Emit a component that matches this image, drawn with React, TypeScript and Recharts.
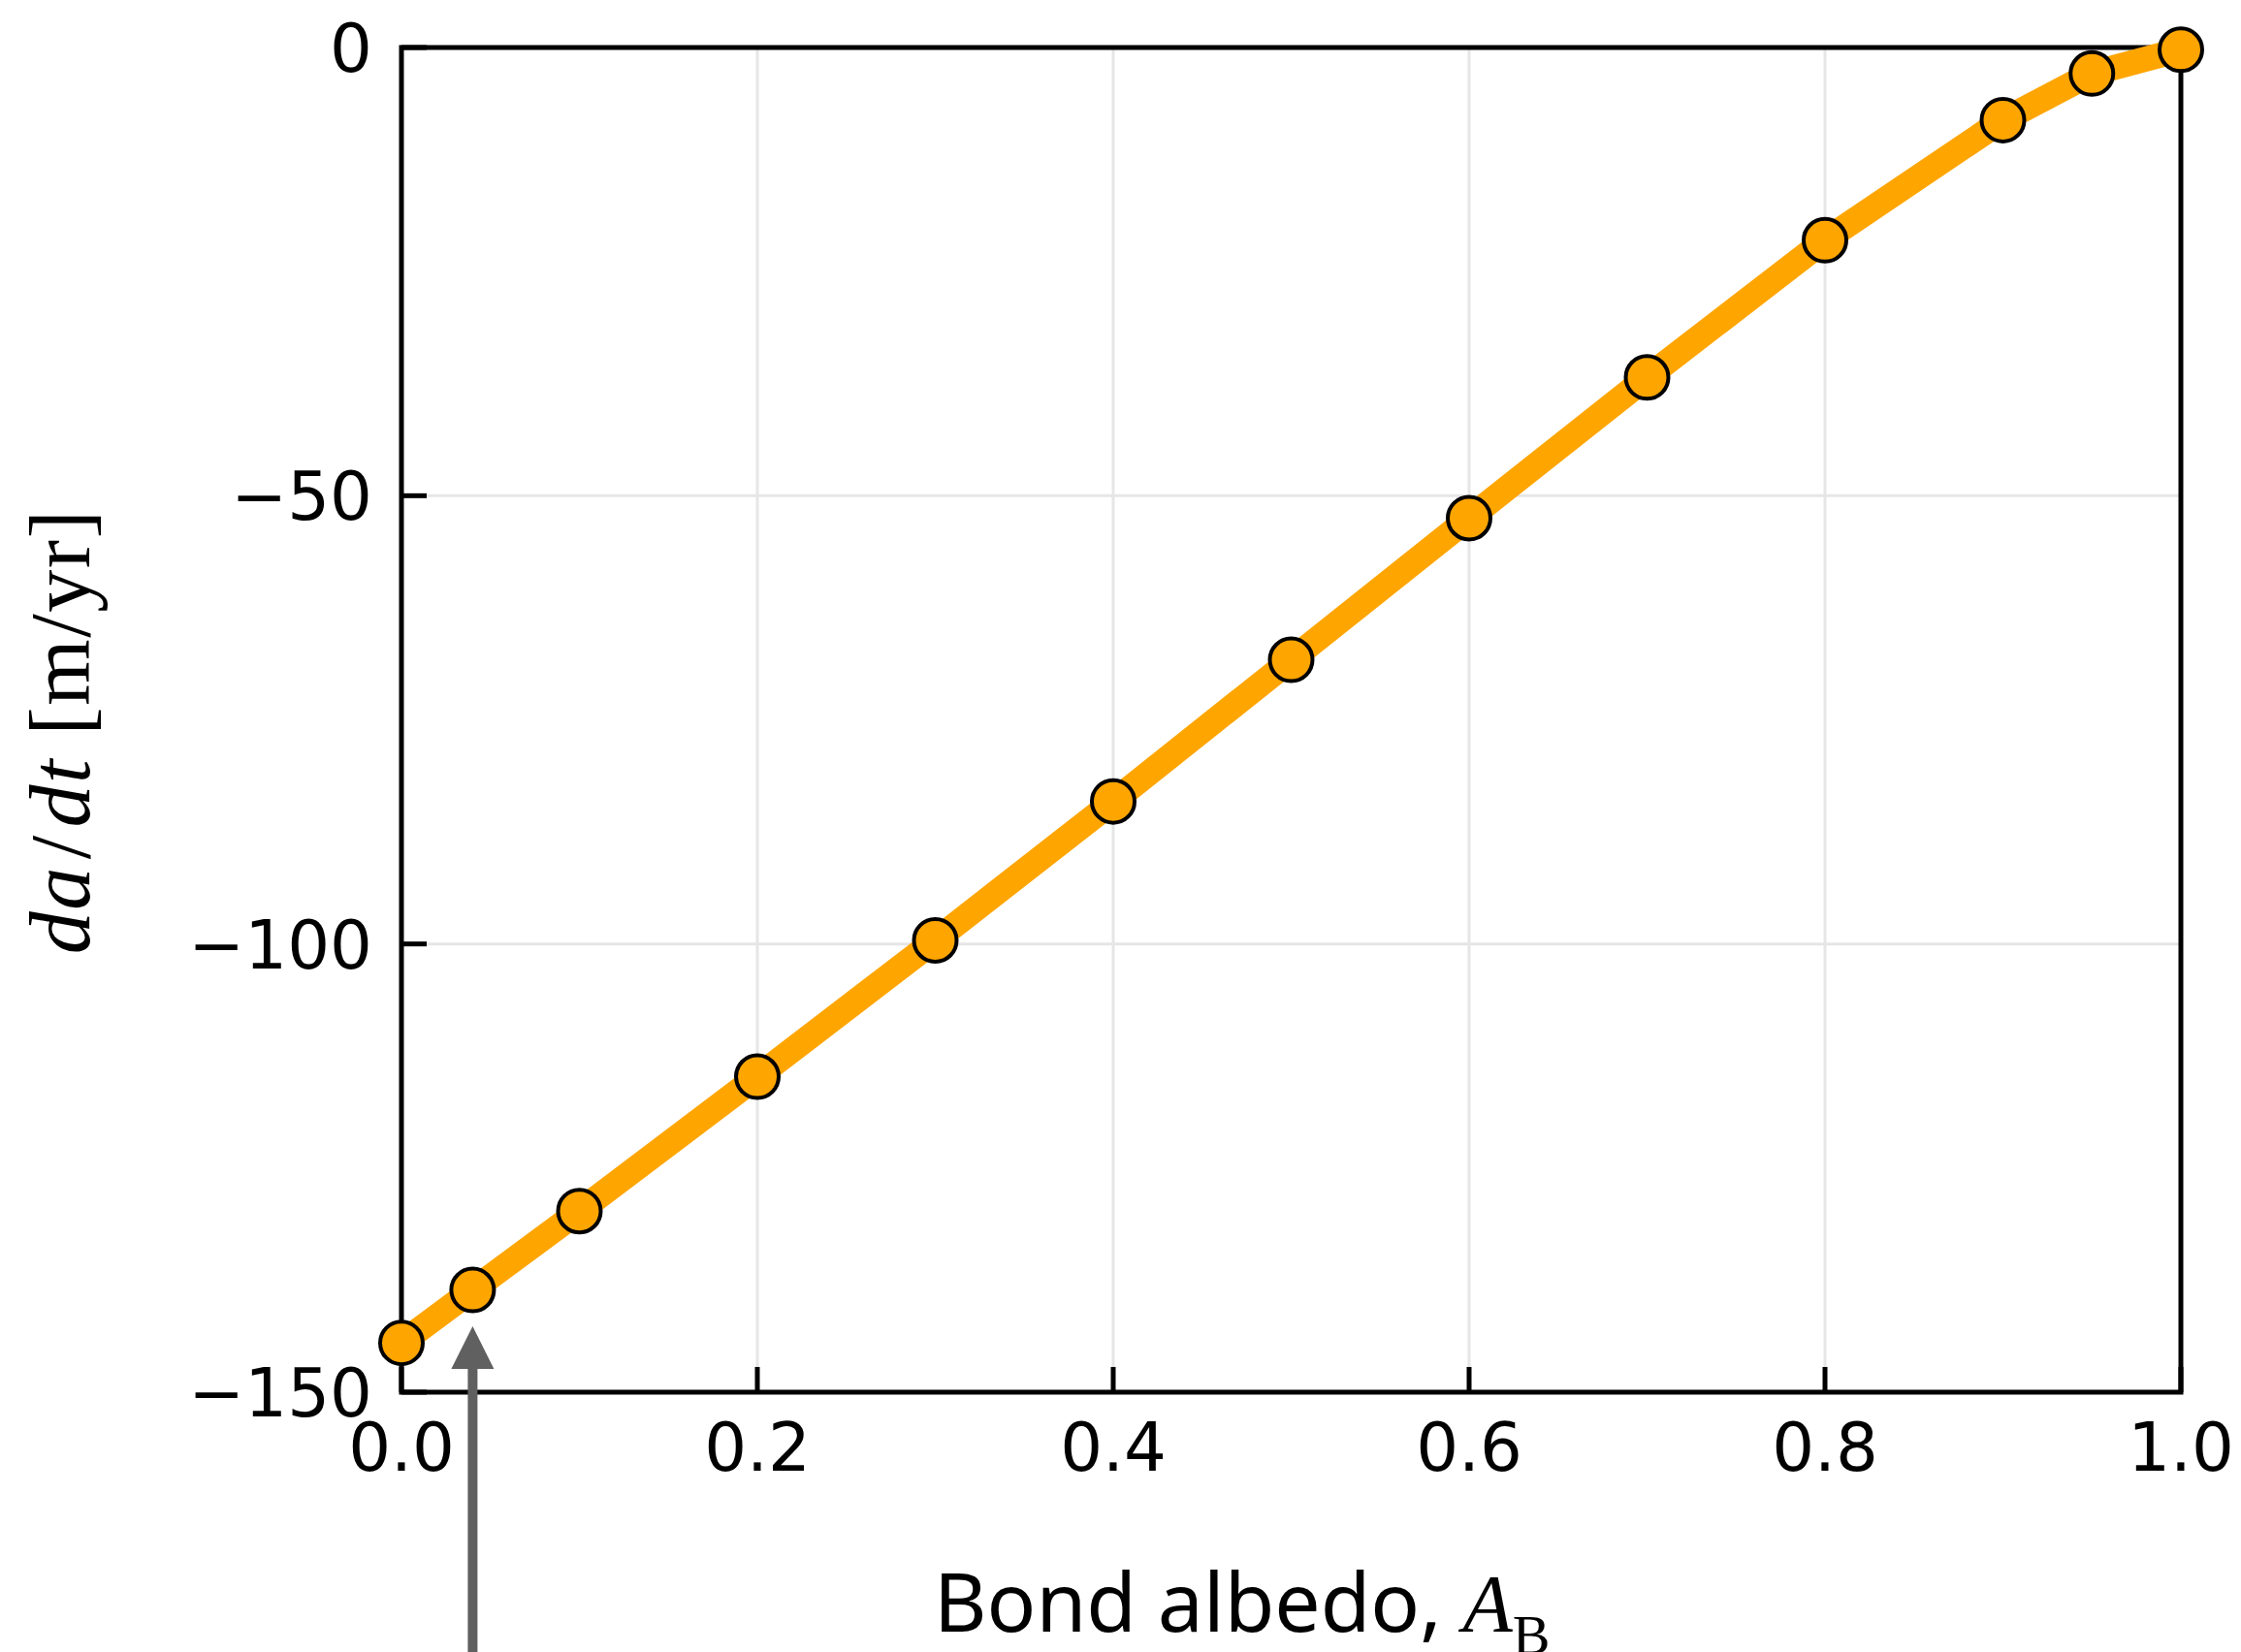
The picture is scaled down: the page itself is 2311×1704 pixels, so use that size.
import React from "react";
import {
  LineChart,
  Line,
  XAxis,
  YAxis,
  CartesianGrid,
  ReferenceArea,
  ReferenceLine,
} from "recharts";

// Bond albedo vs. semi-major axis drift rate
const albedo = [0, 0.04, 0.1, 0.2, 0.3, 0.4, 0.5, 0.6, 0.7, 0.8, 0.9, 0.95, 1.0];
const dadt = [-144.5, -138.6, -129.8, -114.8, -99.6, -84.1, -68.3, -52.5, -36.8, -21.5, -8.1, -2.9, -0.25];
const xTicks = [0, 0.2, 0.4, 0.6, 0.8, 1.0];
const yTicks = [-150, -100, -50, 0];
const markedAlbedo = 0.04;

const data = albedo.map((a, i) => ({ albedo: a, dadt: dadt[i] }));

const W = 2311;
const H = 1704;
const TICK_FONT = "'DejaVu Sans', sans-serif";
const TICK_SIZE = 69;
const TICK_LEN = 26;
const X_GAP = 32;
const Y_GAP = 30;

const fmtY = (v: number) => (v < 0 ? "\u2212" + Math.abs(v) : String(v));

function XTick({ x, y, payload }: any) {
  const axisY = y - X_GAP;
  return (
    <g>
      <line x1={x} x2={x} y1={axisY} y2={axisY - TICK_LEN} stroke="#000" strokeWidth={5} />
      <text x={x} y={y} dy="0.71em" textAnchor="middle" fontFamily={TICK_FONT} fontSize={TICK_SIZE} fill="#000">
        {Number(payload.value).toFixed(1)}
      </text>
    </g>
  );
}

function YTick({ x, y, payload }: any) {
  const axisX = x + Y_GAP;
  return (
    <g>
      <line x1={axisX} x2={axisX + TICK_LEN} y1={y} y2={y} stroke="#000" strokeWidth={5} />
      <text x={x} y={y} dy="0.36em" textAnchor="end" fontFamily={TICK_FONT} fontSize={TICK_SIZE} fill="#000">
        {fmtY(payload.value)}
      </text>
    </g>
  );
}

function XTitle(props: any) {
  const vb = props.viewBox ?? { x: 414, y: 1436, width: 1835, height: 268 };
  return (
    <text x={vb.x + 549} y={vb.y + 247} fill="#000">
      <tspan fontFamily="'Noto Sans', sans-serif" fontSize={84}>Bond albedo,&#160;</tspan>
      <tspan fontFamily="'Liberation Serif', serif" fontStyle="italic" fontSize={84}>A</tspan>
      <tspan fontFamily="'Liberation Serif', serif" fontSize={58} dy={23}>B</tspan>
    </text>
  );
}

function YTitle(props: any) {
  const vb = props.viewBox ?? { x: 0, y: 49, width: 414, height: 1387 };
  const x = vb.x + 92;
  const y = vb.y + vb.height / 2 + 12;
  return (
    <text
      x={x}
      y={y}
      transform={`rotate(-90, ${x}, ${y})`}
      textAnchor="middle"
      fontFamily="'Liberation Serif', serif"
      fontSize={88}
      letterSpacing={1.5}
      fill="#000"
    >
      <tspan fontStyle="italic">da</tspan>
      <tspan dx={7}>/</tspan>
      <tspan dx={7} fontStyle="italic">dt</tspan>
      <tspan>&#160;[m/yr]</tspan>
    </text>
  );
}

function Arrow(props: any) {
  const cx = props.x1;
  const bottom = Math.max(props.y1, props.y2);
  const tip = bottom - 68;
  const base = bottom - 24;
  const end = H;
  const d = `M${cx},${tip} L${cx + 22},${base} L${cx + 5},${base} L${cx + 5},${end} L${cx - 5},${end} L${cx - 5},${base} L${cx - 22},${base} Z`;
  return <path d={d} fill="#606060" stroke="none" />;
}

export default function App() {
  return (
    <div style={{ position: "absolute", left: 0, top: 0, width: W, height: H, background: "#fff" }}>
      <LineChart width={W} height={H} data={data} margin={{ top: 49, right: 62, left: 0, bottom: 0 }}>
        <CartesianGrid stroke="#e6e6e6" strokeWidth={3} />
        <XAxis
          dataKey="albedo"
          type="number"
          domain={[0, 1]}
          ticks={xTicks}
          height={268}
          axisLine={false}
          tickLine={false}
          tickSize={0}
          tickMargin={X_GAP}
          tick={<XTick />}
          interval={0}
          label={<XTitle />}
        />
        <YAxis
          type="number"
          domain={[-150, 0]}
          ticks={yTicks}
          width={414}
          axisLine={false}
          tickLine={false}
          tickSize={0}
          tickMargin={Y_GAP}
          tick={<YTick />}
          interval={0}
          label={<YTitle />}
        />
        <ReferenceArea x1={0} x2={1} y1={-150} y2={0} fill="none" fillOpacity={0} stroke="#000" strokeWidth={5} ifOverflow="visible" />
        <Line
          type="linear"
          dataKey="dadt"
          stroke="#FFA500"
          strokeWidth={26}
          strokeLinejoin="round"
          dot={{ r: 22, fill: "#FFA500", stroke: "#000", strokeWidth: 4 }}
          activeDot={false}
          isAnimationActive={false}
        />
        <ReferenceLine x={markedAlbedo} ifOverflow="visible" shape={Arrow} />
      </LineChart>
    </div>
  );
}
